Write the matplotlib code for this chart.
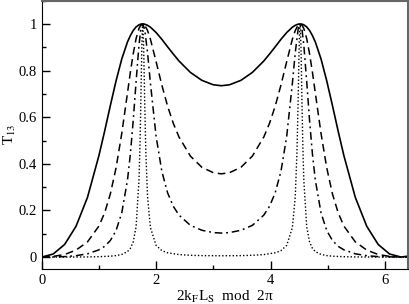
import matplotlib
matplotlib.use("Agg")
import matplotlib.pyplot as plt
from matplotlib.ticker import MultipleLocator

plt.rcParams['font.family'] = ['Liberation Serif', 'DejaVu Serif']
plt.rcParams['mathtext.fontset'] = 'stix'

# common phase grid for the three broader curves
phase = [0.0, 0.2, 0.4, 0.6, 0.8, 1.0, 1.1, 1.2, 1.3, 1.4, 1.5, 1.55, 1.6, 1.65, 1.7, 1.73,
         1.766, 1.8, 1.85, 1.9, 2.0, 2.1, 2.2, 2.3, 2.4, 2.6, 2.8, 3.0, 3.1416,
         3.283, 3.483, 3.683, 3.883, 3.983, 4.083, 4.183, 4.283, 4.383, 4.433, 4.483,
         4.517, 4.553, 4.583, 4.633, 4.683, 4.733, 4.783, 4.883, 4.983, 5.083, 5.183,
         5.283, 5.483, 5.683, 5.883, 6.083, 6.283, 6.4]

t_solid = [0.0, 0.013, 0.054, 0.132, 0.256, 0.435, 0.540, 0.650, 0.756, 0.850, 0.923, 0.950,
           0.972, 0.987, 0.996, 0.999, 1.0, 0.999, 0.994, 0.986, 0.963, 0.934, 0.902, 0.871,
           0.841, 0.792, 0.758, 0.739, 0.735,
           0.739, 0.758, 0.792, 0.841, 0.871, 0.902, 0.934, 0.963, 0.986, 0.994, 0.999,
           1.0, 0.999, 0.996, 0.987, 0.972, 0.950, 0.923, 0.850, 0.756, 0.650, 0.540,
           0.435, 0.256, 0.132, 0.054, 0.013, 0.0, 0.004]

t_dashed = [0.0, 0.003, 0.011, 0.030, 0.065, 0.133, 0.190, 0.271, 0.383, 0.531, 0.705, 0.793,
            0.872, 0.937, 0.980, 0.994, 1.0, 0.995, 0.972, 0.935, 0.838, 0.738, 0.648, 0.574,
            0.515, 0.433, 0.385, 0.362, 0.357,
            0.362, 0.385, 0.433, 0.515, 0.574, 0.648, 0.738, 0.838, 0.935, 0.972, 0.995,
            1.0, 0.994, 0.980, 0.937, 0.872, 0.793, 0.705, 0.531, 0.383, 0.271, 0.190,
            0.133, 0.065, 0.030, 0.011, 0.003, 0.0, 0.001]

t_dashdot = [0.0, 0.001, 0.002, 0.006, 0.014, 0.031, 0.046, 0.071, 0.114, 0.190, 0.331, 0.442,
             0.586, 0.753, 0.908, 0.972, 1.0, 0.977, 0.877, 0.747, 0.517, 0.368, 0.276, 0.218,
             0.180, 0.136, 0.115, 0.105, 0.103,
             0.105, 0.115, 0.136, 0.180, 0.218, 0.276, 0.368, 0.517, 0.747, 0.877, 0.977,
             1.0, 0.972, 0.908, 0.753, 0.586, 0.442, 0.331, 0.190, 0.114, 0.071, 0.046,
             0.031, 0.014, 0.006, 0.002, 0.001, 0.0, 0.0]

# finer grid for the narrow dotted resonances
phase_dot = [0.0, 0.4, 0.8, 1.0, 1.2, 1.3, 1.4, 1.5, 1.55, 1.6, 1.65, 1.7, 1.71, 1.72, 1.73,
             1.74, 1.75, 1.76, 1.766, 1.77, 1.78, 1.79, 1.8, 1.82, 1.85, 1.9, 2.0, 2.1, 2.2,
             2.4, 2.6, 2.8, 3.1416,
             3.483, 3.683, 3.883, 4.083, 4.183, 4.283, 4.383, 4.433, 4.463, 4.483, 4.493,
             4.503, 4.513, 4.517, 4.523, 4.533, 4.543, 4.553, 4.563, 4.573, 4.583, 4.633,
             4.683, 4.733, 4.783, 4.883, 4.983, 5.083, 5.283, 5.483, 5.883, 6.283, 6.4]

t_dotted = [0.0, 0.0001, 0.0007, 0.0016, 0.0038, 0.0063, 0.0113, 0.0237, 0.0374, 0.0649,
            0.130, 0.327, 0.406, 0.505, 0.627, 0.766, 0.896, 0.984, 1.0, 0.993, 0.922, 0.803,
            0.671, 0.452, 0.260, 0.127, 0.050, 0.0277, 0.0184, 0.0107, 0.0077, 0.0063, 0.0056,
            0.0063, 0.0077, 0.0107, 0.0184, 0.0277, 0.050, 0.127, 0.260, 0.452, 0.671, 0.803,
            0.922, 0.993, 1.0, 0.984, 0.896, 0.766, 0.627, 0.505, 0.406, 0.327, 0.130,
            0.0649, 0.0374, 0.0237, 0.0113, 0.0063, 0.0038, 0.0016, 0.0007, 0.0001, 0.0, 0.0]

fig = plt.figure(figsize=(4.09, 3.04), dpi=100)
ax = fig.add_axes([0.102, 0.116, 0.895, 0.882])

ax.plot(phase, t_solid, color='black', lw=1.2, ls='-')
ax.plot(phase, t_dashed, color='black', lw=1.1, ls=(0, (5, 3)))
ax.plot(phase, t_dashdot, color='black', lw=1.1, ls=(0, (5, 2.5, 1.2, 2.5)))
ax.plot(phase_dot, t_dotted, color='black', lw=1.0, ls=(0, (1, 1.5)))

ax.set_xlim(0, 6.4)
ax.set_ylim(-0.05, 1.1)
ax.xaxis.set_major_locator(MultipleLocator(2))
ax.xaxis.set_minor_locator(MultipleLocator(1))
ax.yaxis.set_minor_locator(MultipleLocator(0.1))
ax.set_yticks([0, 0.2, 0.4, 0.6, 0.8, 1.0])
ax.set_yticklabels(['0', '0.2', '0.4', '0.6', '0.8', '1'])
ax.tick_params(which='both', direction='in', top=False, right=False, labelsize=10.5, width=1.0)
ax.tick_params(which='major', length=6)
ax.tick_params(which='minor', length=3)

for side in ['top', 'right']:
    ax.spines[side].set_color('#666666')
    ax.spines[side].set_linewidth(1.5)

ax.set_xlabel('2k$_\\mathrm{F}$L$_\\mathrm{S}$  mod  2π', fontsize=11, labelpad=2)
ax.set_ylabel('T$_{13}$', fontsize=11)
ax.yaxis.set_label_coords(-0.066, 0.5)

fig.savefig('out.png', dpi=100)
